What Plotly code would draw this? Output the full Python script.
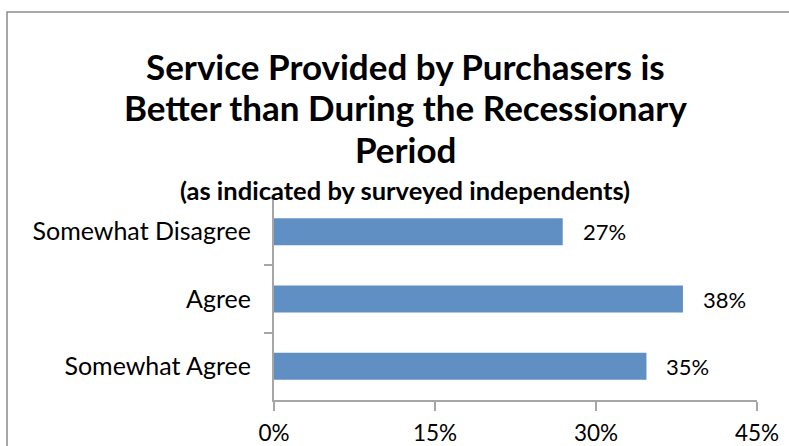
import plotly.graph_objects as go

categories = ["Somewhat Disagree", "Agree", "Somewhat Agree"]
values = [0.269, 0.381, 0.347]
tick_vals = [0, 0.15, 0.30, 0.45]
tick_text = ["0%", "15%", "30%", "45%"]
title_lines = ["Service Provided by Purchasers is",
               "Better than During the Recessionary",
               "Period"]
subtitle = "(as indicated by surveyed independents)"

FONT = "Lato"
W, H = 789, 446
L, R, T, B = 274, 32, 198, 46
pw, ph = W - L - R, H - T - B


def py(pix):
    return (H - B - pix) / ph


def px(pix):
    return (pix - L) / pw


fig = go.Figure()
fig.add_trace(go.Bar(
    y=categories, x=values, orientation="h",
    marker=dict(color="#5F8FC3", line=dict(width=0)),
    width=0.4, hoverinfo="skip",
))

for c, v in zip(categories, values):
    fig.add_annotation(x=v, y=c, xref="x", yref="y", text=f"{round(v*100)}%",
                       showarrow=False, xanchor="left", xshift=18,
                       font=dict(family=FONT, size=22, color="#000"))

for line, ymid in zip(title_lines, [66, 107, 149]):
    fig.add_annotation(xref="paper", yref="paper", x=px(405), y=py(ymid),
                       text=f"<b>{line}</b>", showarrow=False,
                       xanchor="center", yanchor="middle",
                       font=dict(family=FONT, size=35, color="#000"))
fig.add_annotation(xref="paper", yref="paper", x=px(405), y=py(190),
                   text=f"<b>{subtitle}</b>", showarrow=False,
                   xanchor="center", yanchor="middle",
                   font=dict(family=FONT, size=25.5, color="#000"))

# chart frame (cut off at right and bottom)
fig.add_shape(type="rect", xref="paper", yref="paper",
              x0=px(7), x1=px(W + 20), y0=py(H + 20), y1=py(12),
              line=dict(color="#8C8C8C", width=1.5),
              fillcolor="rgba(0,0,0,0)", layer="below")

fig.update_layout(
    width=W, height=H,
    margin=dict(l=L, r=R, t=T, b=B, autoexpand=False),
    paper_bgcolor="white", plot_bgcolor="white",
    showlegend=False,
    xaxis=dict(range=[0, 0.45], tickvals=tick_vals, ticktext=tick_text,
               showgrid=False, zeroline=False, showline=True,
               linecolor="#A6A6A6", linewidth=2,
               ticks="outside", ticklen=9, tickcolor="#A6A6A6", tickwidth=2,
               ticklabelstandoff=3,
               tickfont=dict(family=FONT, size=22.5, color="#000")),
    yaxis=dict(autorange="reversed", showgrid=False, zeroline=False,
               showline=True, linecolor="#A6A6A6", linewidth=2,
               ticks="outside", tickson="boundaries", ticklen=8,
               tickcolor="#A6A6A6", tickwidth=2, ticklabelstandoff=16,
               tickfont=dict(family=FONT, size=25, color="#000")),
)

fig.write_html("out.html")
